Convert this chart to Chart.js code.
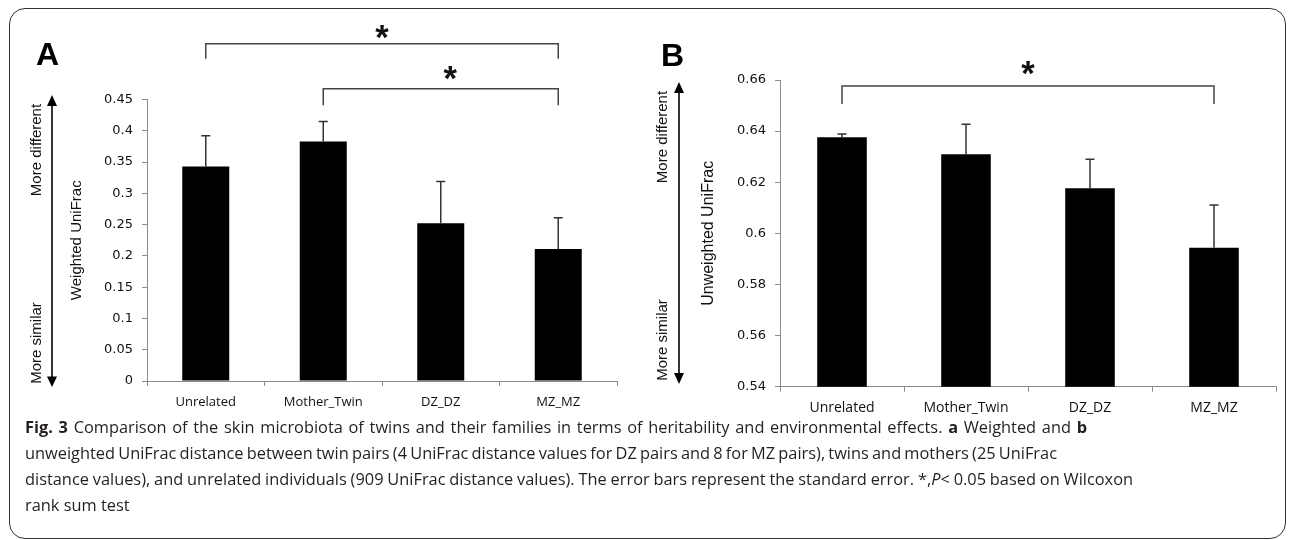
<!DOCTYPE html>
<html><head><meta charset="utf-8">
<script src="https://cdn.jsdelivr.net/npm/chart.js@4.4.0/dist/chart.umd.min.js"></script>
<style>
html,body{margin:0;padding:0;background:#fff;}
#wrap{position:relative;width:1293px;height:540px;overflow:hidden;background:#fff;}
canvas{position:absolute;left:0;top:0;}
.frame{position:absolute;left:9px;top:8px;width:1277px;height:531px;border:1.5px solid #333;border-radius:16px;box-sizing:border-box;}
.letter{position:absolute;font:bold 32px "Liberation Sans",Arial,sans-serif;color:#000;line-height:32px;}
.rot{position:absolute;font:15px "Liberation Sans",Arial,sans-serif;white-space:nowrap;transform:translate(-50%,-50%) rotate(-90deg);color:#111;line-height:18px;}
.cap{position:absolute;left:25px;white-space:nowrap;font-family:"Open Sans",sans-serif;color:#231f20;}
</style></head>
<body><div id="wrap">
<div class="frame"></div>
<canvas id="ca" width="1293" height="540"></canvas>
<canvas id="cb" width="1293" height="540"></canvas>
<svg width="1293" height="540" style="position:absolute;left:0;top:0">
  <line x1="52" y1="100" x2="52" y2="382" stroke="#000" stroke-width="1.6"/>
  <polygon points="52,95 47,106 57,106" fill="#000"/>
  <polygon points="52,387 47,376.5 57,376.5" fill="#000"/>
  <line x1="679" y1="87" x2="679" y2="379" stroke="#000" stroke-width="1.6"/>
  <polygon points="679,82 674,93 684,93" fill="#000"/>
  <polygon points="679,384 674,373 684,373" fill="#000"/>
</svg>
<div class="letter" style="left:36px;top:38px">A</div>
<div class="letter" style="left:661px;top:39px">B</div>
<div class="rot" style="left:35.5px;top:150px">More different</div>
<div class="rot" style="left:35.5px;top:342.5px">More similar</div>
<div class="rot" style="left:662px;top:136.5px">More different</div>
<div class="rot" style="left:662px;top:340px">More similar</div>
<div class="cap" id="l1"><b>Fig. 3</b> Comparison of the skin microbiota of twins and their families in terms of heritability and environmental effects. <b>a</b> Weighted and <b>b</b></div>
<div class="cap" id="l2">unweighted UniFrac distance between twin pairs (4 UniFrac distance values for DZ pairs and 8 for MZ pairs), twins and mothers (25 UniFrac</div>
<div class="cap" id="l3">distance values), and unrelated individuals (909 UniFrac distance values). The error bars represent the standard error. *,<i>P</i>&lt; 0.05 based on Wilcoxon</div>
<div class="cap" id="l4">rank sum test</div>
</div>
<script>
// ---------------- data ----------------
const categories = ['Unrelated', 'Mother_Twin', 'DZ_DZ', 'MZ_MZ'];
const weightedMean = [0.343, 0.383, 0.252, 0.211];
const weightedSE = [0.049, 0.032, 0.067, 0.050];
const unweightedMean = [0.6376, 0.6309, 0.6176, 0.5944];
const unweightedSE = [0.0013, 0.0118, 0.0114, 0.0167];
const ticksA = [0, 0.05, 0.1, 0.15, 0.2, 0.25, 0.3, 0.35, 0.4, 0.45];
const tickLabelsA = ['0', '0.05', '0.1', '0.15', '0.2', '0.25', '0.3', '0.35', '0.4', '0.45'];
const ticksB = [0.54, 0.56, 0.58, 0.6, 0.62, 0.64, 0.66];
const tickLabelsB = ['0.54', '0.56', '0.58', '0.6', '0.62', '0.64', '0.66'];
// significance brackets: category indices and value levels
const sigA = [
  {from: 0, to: 3, level: 0.539, drop: 0.515, starAt: 1.5, starLevel: 0.558},
  {from: 1, to: 3, level: 0.467, drop: 0.441, starAt: 2.08, starLevel: 0.4923}
];
const sigB = [
  {from: 0, to: 3, level: 0.6577, drop: 0.6506, starAt: 1.5, starLevel: 0.6647}
];

// ---------------- caption sizing (font fitted on the total width, lines trimmed by word spacing) ----------------
(function(){
  const ids = ['l1','l2','l3','l4'];
  const targets = [1062, 1032, 1108, null];
  const centers = [428, 454, 480, 506];
  let total = 0;
  [0, 1, 2].forEach(i => {
    const el = document.getElementById(ids[i]);
    el.style.fontSize = '100px';
    total += el.getBoundingClientRect().width;
  });
  const fs = 100 * (targets[0] + targets[1] + targets[2]) / total;
  ids.forEach((id, i) => {
    const el = document.getElementById(id);
    el.style.fontSize = fs + 'px';
    el.style.lineHeight = (fs * 1.2) + 'px';
    el.style.top = (centers[i] - fs * 0.6) + 'px';
    if (targets[i]) {
      const w = el.getBoundingClientRect().width;
      const spaces = (el.textContent.match(/ /g) || []).length;
      el.style.wordSpacing = ((targets[i] - w) / spaces) + 'px';
    }
  });
})();

function extrasPlugin(ses, sig) {
  return {
    id: 'extras',
    afterDatasetsDraw(chart) {
      const ctx = chart.ctx;
      const xs = chart.scales.x, ys = chart.scales.y;
      const meta = chart.getDatasetMeta(0);
      const data = chart.data.datasets[0].data;
      ctx.save();
      // error bars
      ctx.strokeStyle = '#333';
      ctx.lineWidth = 1.5;
      meta.data.forEach((bar, i) => {
        const x = bar.x;
        const y0 = ys.getPixelForValue(data[i]);
        const y1 = ys.getPixelForValue(data[i] + ses[i]);
        ctx.beginPath();
        ctx.moveTo(x, y0); ctx.lineTo(x, y1);
        ctx.moveTo(x - 4.5, y1); ctx.lineTo(x + 4.5, y1);
        ctx.stroke();
      });
      // brackets
      ctx.strokeStyle = '#444';
      ctx.lineWidth = 1.5;
      sig.forEach(s => {
        const xa = xs.getPixelForValue(s.from), xb = xs.getPixelForValue(s.to);
        const yl = ys.getPixelForValue(s.level), yd = ys.getPixelForValue(s.drop);
        ctx.beginPath();
        ctx.moveTo(xa, yd); ctx.lineTo(xa, yl); ctx.lineTo(xb, yl); ctx.lineTo(xb, yd);
        ctx.stroke();
        ctx.font = 'bold 100px "Liberation Sans", Arial, sans-serif';
        const m100 = ctx.measureText('*');
        const inkW = m100.actualBoundingBoxLeft + m100.actualBoundingBoxRight;
        const fs = 100 * 13.5 / inkW;
        ctx.font = 'bold ' + fs + 'px "Liberation Sans", Arial, sans-serif';
        const m = ctx.measureText('*');
        const sx = xs.getPixelForValue(s.starAt);
        const sy = ys.getPixelForValue(s.starLevel);
        ctx.fillStyle = '#111';
        ctx.textAlign = 'center';
        ctx.textBaseline = 'alphabetic';
        ctx.fillText('*', sx, sy + (m.actualBoundingBoxAscent - m.actualBoundingBoxDescent) / 2);
      });
      ctx.restore();
    }
  };
}

function makeChart(id, means, ses, tickVals, tickLabels, sig, g) {
  return new Chart(document.getElementById(id), {
    type: 'bar',
    data: {labels: categories, datasets: [{data: means, backgroundColor: '#000', borderWidth: 0, barPercentage: 0.4, categoryPercentage: 1}]},
    options: {
      responsive: false, animation: false, devicePixelRatio: 1,
      layout: {padding: {left: g.pl, right: g.pr, top: g.pt, bottom: g.pb}},
      plugins: {legend: {display: false}, tooltip: {enabled: false}},
      scales: {
        x: {
          grid: {drawOnChartArea: false, drawTicks: true, tickLength: 5, color: '#8c8c8c', offset: true},
          border: {color: '#8c8c8c', width: 1},
          ticks: {color: '#111', font: {family: 'Open Sans', size: g.xfs}, padding: g.xpad, maxRotation: 0, autoSkip: false},
          afterFit: s => { s.height = 40; }
        },
        y: {
          min: tickVals[0], max: tickVals[tickVals.length - 1],
          afterBuildTicks: s => { s.ticks = tickVals.map(v => ({value: v})); },
          ticks: {callback: (v, i) => tickLabels[i], color: '#111', font: {family: 'DejaVu Sans', size: 13}, padding: 9},
          grid: {drawOnChartArea: false, drawTicks: true, tickLength: 5, color: '#8c8c8c'},
          border: {color: '#8c8c8c', width: 1},
          title: {display: true, text: g.title, color: '#111', font: {family: 'Liberation Sans', size: g.tfs}, padding: {top: g.tpad, bottom: 0}},
          afterFit: s => { s.width = g.yw; }
        }
      }
    },
    plugins: [extrasPlugin(ses, sig)]
  });
}

makeChart('ca', weightedMean, weightedSE, ticksA, tickLabelsA, sigA,
  {pl: 27, yw: 120, pr: 1293 - 617, pt: 99.5, pb: 540 - 381 - 40, xfs: 13, xpad: 8, title: 'Weighted UniFrac', tfs: 15, tpad: 41});
makeChart('cb', unweightedMean, unweightedSE, ticksB, tickLabelsB, sigB,
  {pl: 650, yw: 130, pr: 1293 - 1276, pt: 80, pb: 540 - 386.7 - 40, xfs: 14, xpad: 7.5, title: 'Unweighted UniFrac', tfs: 16, tpad: 49});
</script>
</body></html>
